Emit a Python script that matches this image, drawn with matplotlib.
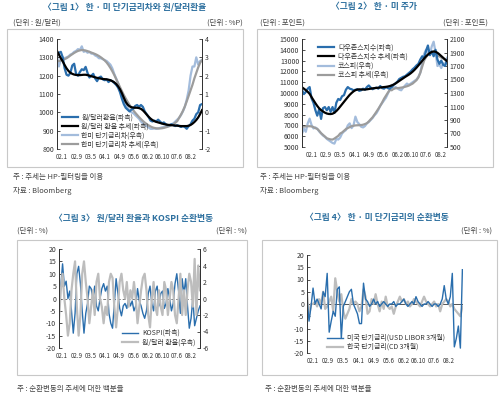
import numpy as np
import matplotlib
matplotlib.use('Agg')
import matplotlib.pyplot as plt
from matplotlib.patches import Rectangle

plt.rcParams['font.family'] = ['Noto Sans CJK KR', 'DejaVu Sans']
plt.rcParams['axes.unicode_minus'] = False

# tick labels shared by all four panels
dates = ['02.1', '02.9', '03.5', '04.1', '04.9', '05.6', '06.2', '06.10', '07.6', '08.2']

# panel 1: won/dollar rate and Korea-US short rate spread
krw = [1317, 1325, 1330, 1300, 1240, 1205, 1200, 1215, 1255, 1265, 1210, 1200,
       1220, 1235, 1230, 1248, 1215, 1190, 1200, 1210, 1185, 1170, 1190, 1195,
       1180, 1175, 1180, 1165, 1175, 1170, 1160, 1150, 1135, 1110, 1075, 1045,
       1025, 1015, 1005, 1015, 1020, 1035, 1040, 1030, 1040, 1030, 1005, 990,
       975, 955, 950, 955, 950, 960, 950, 940, 945, 935, 930, 930,
       935, 930, 925, 930, 925, 920, 925, 920, 910, 925, 935, 955,
       965, 990, 1000, 1040, 1045]
krw_trend = [1335, 1315, 1295, 1278, 1258, 1240, 1226, 1216, 1210, 1206, 1204, 1203,
             1203, 1204, 1205, 1205, 1203, 1200, 1197, 1194, 1191, 1188, 1186, 1184,
             1182, 1181, 1180, 1178, 1175, 1170, 1164, 1155, 1142, 1126, 1105, 1080,
             1057, 1042, 1033, 1028, 1026, 1025, 1025, 1023, 1019, 1011, 1000, 988,
             976, 966, 958, 952, 948, 945, 942, 939, 936, 934, 932, 931,
             930, 929, 928, 927, 926, 925, 925, 925, 925, 927, 931, 938,
             947, 958, 972, 990, 1012]
spread = [3.1, 2.5, 2.9, 3.0, 2.95, 3.0, 3.05, 3.15, 3.2, 3.3, 3.35, 3.45,
          3.4, 3.6, 3.3, 3.35, 3.25, 3.3, 3.2, 3.2, 3.1, 3.05, 2.95, 2.95,
          2.9, 2.85, 2.8, 2.7, 2.6, 2.4, 2.1, 1.85, 1.6, 1.2, 0.85, 0.6,
          0.4, 0.25, 0.1, 0.0, -0.05, -0.15, -0.25, -0.35, -0.5, -0.6, -0.7, -0.75,
          -0.82, -0.9, -0.9, -0.88, -0.9, -0.88, -0.85, -0.82, -0.8, -0.78, -0.72, -0.7,
          -0.65, -0.6, -0.5, -0.4, -0.3, -0.15, 0.05, 0.3, 0.7, 1.2, 2.0, 2.5,
          2.5, 3.0, 2.6, 2.8, 2.85]
spread_trend = [2.78, 2.8, 2.83, 2.86, 2.9, 2.95, 3.02, 3.1, 3.17, 3.24, 3.3, 3.35,
                3.38, 3.4, 3.39, 3.37, 3.34, 3.3, 3.26, 3.22, 3.18, 3.13, 3.07, 3.0,
                2.92, 2.83, 2.72, 2.58, 2.42, 2.24, 2.04, 1.82, 1.6, 1.38, 1.16, 0.95,
                0.76, 0.58, 0.41, 0.25, 0.11, -0.02, -0.14, -0.26, -0.37, -0.47, -0.56, -0.64,
                -0.71, -0.77, -0.82, -0.85, -0.87, -0.88, -0.88, -0.87, -0.85, -0.82, -0.79, -0.75,
                -0.7, -0.64, -0.57, -0.48, -0.3, -0.12, 0.08, 0.32, 0.6, 0.9, 1.2, 1.5,
                1.85, 2.15, 2.45, 2.7, 2.85]

# panel 2: Dow Jones and KOSPI
dow = [10280, 9900, 10100, 10400, 10550, 9500, 9100, 8420, 7900, 8500, 7600, 8600,
       8700, 8400, 8700, 8250, 8700, 8150, 9100, 9450, 9350, 9700, 9800, 10300,
       10550, 10400, 10350, 10250, 10300, 10350, 10200, 10250, 10400, 10300, 10550, 10700,
       10500, 10350, 10450, 10500, 10400, 10650, 10450, 10400, 10550, 10450, 10400, 10550,
       10750, 10900, 11050, 11300, 11400, 11500, 11550, 11700, 11850, 12000, 12200, 12350,
       12550, 12700, 13100, 13400, 13200, 13900, 14400, 13500, 13850, 13400, 14000, 13100,
       12700, 13000, 12600, 12500, 13050]
dow_trend = [10530, 10400, 10260, 10110, 9920, 9620, 9340, 9060, 8800, 8580, 8420, 8290,
             8180, 8100, 8060, 8050, 8080, 8180, 8330, 8520, 8740, 8960, 9180, 9400,
             9620, 9830, 10000, 10150, 10260, 10320, 10340, 10330, 10320, 10320, 10340, 10370,
             10400, 10430, 10450, 10470, 10490, 10510, 10530, 10550, 10570, 10600, 10640, 10700,
             10780, 10880, 11000, 11120, 11240, 11360, 11480, 11590, 11700, 11830, 11980, 12150,
             12340, 12550, 12760, 12980, 13190, 13390, 13560, 13700, 13800, 13850, 13820, 13720,
             13580, 13420, 13260, 13100, 12950]
kospi = [700, 770, 725, 850, 920, 825, 775, 790, 770, 730, 700, 670,
         650, 620, 600, 580, 560, 550, 620, 610, 640, 700, 730, 750,
         820, 850, 780, 820, 950, 870, 840, 800, 790, 810, 850, 870,
         900, 930, 970, 1000, 1050, 1110, 1150, 1190, 1230, 1290, 1350, 1420,
         1360, 1390, 1370, 1350, 1340, 1380, 1410, 1440, 1420, 1440, 1460, 1480,
         1500, 1540, 1600, 1750, 1880, 1940, 1900, 1870, 1990, 2060, 1900, 1700,
         1720, 1670, 1740, 1720, 1820]
kospi_trend = [800, 803, 806, 808, 808, 805, 795, 780, 768, 740, 705, 680,
               655, 630, 620, 612, 610, 625, 645, 665, 700, 715, 740, 765,
               780, 795, 808, 815, 820, 822, 823, 825, 830, 840, 852, 878,
               910, 940, 980, 1022, 1065, 1110, 1160, 1215, 1260, 1305, 1345, 1340,
               1362, 1370, 1372, 1375, 1380, 1384, 1392, 1400, 1410, 1425, 1440, 1465,
               1490, 1530, 1600, 1690, 1780, 1830, 1865, 1885, 1893, 1890, 1878, 1860,
               1842, 1825, 1810, 1795, 1790]

# panel 3: cyclical components (%)
kospi_cycle = [0, 5, 14, 5, 7, 0, 3, -5, -14, -6, 10, 13,
               6, -5, -14, -6, -2, 5, 4, 0, 5, -3, -5, 0,
               4, 6, 3, 5, -6, -10, -12, -2, 8, 2, -4, -7,
               -3, -2, -4, 0, -3, -1, -5, -3, 4, -1, -3, -6,
               -8, -5, 2, 5, -2, -5, 3, 5, -3, 2, 3, -4,
               -2, 4, 0, -5, -2, 6, 10, 3, -6, 8, 2, 8,
               -3, -12, -8, 0, -11, -8, -5, -3]
krw_cycle = [-2.5, 1, 3, 0, -2, -4.5, -3, 1, 3, 4.5, -1, -4.5,
             -2, 3, 4.5, 2, 0, -3, -1, 1, -2, 2, 3, 0,
             -1, -3, -1, -2, 2, 3, 2.5, -1, -3.5, -1, 2, 3,
             1, 0, 2, -1, 1, 0, 2, 0, -3, -1, 1, 2.5,
             3, 1, -2, -3.5, 0, 2, -1, -2, 1, -1, -2, 2,
             1, -2, 0, 2, 1, -2, -3, 0, 3, -2, 1, -2,
             1, 3, 2, -1, 4.8, -2, 4, 1]

# panel 4: cyclical components of short-term rates (%)
libor_cycle = [2, -7, -1, 6.5, 0, 2, 0, -2, 5, 3, 12.5, -11.5,
               -7, -3, -5, 6, 7, -14, -1, 1, 3, 5, 6, 0,
               -2, -4, -8, -8, 8.5, 2, 1, -1, 0, 2, 0, 1,
               -1, 0, 1, 0, -1, 0, 0, 1, -1, 0, 0, 1,
               2, 0, -1, 0, 1, 0, 3, 1, 0, -1, 0, 0,
               1, 0, -1, 0, 0, -1, 0, 2, 7.5, 2, 0, 3,
               12.5, -17.5, -14, -9, -18, 14]
cd_cycle = [4, -5, 0, 0, 1, -1, 2, 0, 5, -2, -1, 1,
            3, -3, 10.5, 5, 1, 4, -3, -6, -4, -2, 2, 0,
            1, 0, -3, -1, 6, 3, -4, -3, 2, 0, 4, 0,
            -3, 1, -2, 3, -1, -2, -1, -4, -1, 1, 3, 1,
            2, 0, 1, -1, 0, 2, 1, 0, -1, 1, 3, 1,
            0, -1, 0, 1, -1, 0, -3, 0, 1, 2, 1, -1,
            0, -2, -3, -4, -5, -1]

BLUE = '#2a6ead'
LBLUE = '#a3bcdc'
GREY = '#9c9c9c'
TITLE = '#2c6f9e'
TXT = '#444444'

W, H = 500, 394
fig = plt.figure(figsize=(5, 3.94), dpi=100)


def rect(l, t, r, b):
    return [l / W, 1 - b / H, (r - l) / W, (b - t) / H]


def frame(l, t, r, b):
    fig.patches.append(Rectangle((l / W, 1 - b / H), (r - l) / W, (b - t) / H,
                                 transform=fig.transFigure, fill=False,
                                 ec='#c8c8c8', lw=0.8))


def txt(x, y, s, **kw):
    kw.setdefault('fontsize', 5.4)
    kw.setdefault('color', TXT)
    fig.text(x / W, 1 - y / H, s, va='center', **kw)


def style(ax, n, f0, step):
    for s in ['top', 'bottom']:
        ax.spines[s].set_visible(False)
    for s in ['left', 'right']:
        ax.spines[s].set_linewidth(0.7)
        ax.spines[s].set_color('#333333')
    ax.tick_params(axis='y', direction='in', length=2.5, width=0.6,
                   labelsize=5, pad=2, colors='#333333')
    ax.tick_params(axis='x', length=0, labelsize=4.4, pad=3, colors='#333333')
    ax.set_xlim(0, n - 1)
    ax.set_xticks([(f0 + k * step) * (n - 1) for k in range(len(dates))])
    ax.set_xticklabels(dates)


def leg(ax, handles, **kw):
    lg = ax.legend(handles=handles, frameon=False, fontsize=5,
                   handlelength=2.3, handletextpad=0.5, labelspacing=0.15,
                   borderpad=0.2, **kw)
    for t in lg.get_texts():
        t.set_color('#333333')


# ---- panel 1
frame(7, 29, 243, 167)
ax1 = fig.add_axes(rect(57, 39, 202, 149))
ax1b = ax1.twinx()
x1 = np.arange(len(krw))
la = ax1b.plot(x1, spread, color=LBLUE, lw=1.6, label='한미 단기금리차(우측)')[0]
lb = ax1b.plot(x1, spread_trend, color=GREY, lw=1.6, label='한미 단기금리차 추세(우측)')[0]
lc = ax1.plot(x1, krw, color=BLUE, lw=1.6, label='원/달러환율(좌측)')[0]
ld = ax1.plot(x1, krw_trend, color='black', lw=1.6, label='원/달러 환율 추세(좌측)')[0]
ax1.set_zorder(ax1b.get_zorder() + 1)
ax1.patch.set_visible(False)
ax1.set_ylim(800, 1400)
ax1.set_yticks(range(800, 1401, 100))
ax1b.set_ylim(-2, 4)
ax1b.set_yticks(range(-2, 5))
style(ax1, len(krw), 0.035, 0.0988)
style(ax1b, len(krw), 0.035, 0.0988)
leg(ax1, [lc, ld, la, lb], loc='upper left', bbox_to_anchor=(0.0, 0.37))
txt(125, 7, '〈그림 1〉 한 · 미 단기금리차와 원/달러환율', ha='center', fontsize=6.3,
    color=TITLE, fontweight='bold')
txt(13, 23, '(단위 : 원/달러)')
txt(243, 23, '(단위 : %P)', ha='right')
txt(13, 177, '주 : 추세는 HP-필터링을 이용')
txt(13, 191, '자료 : Bloomberg')

# ---- panel 2
frame(257, 29, 493, 167)
ax2 = fig.add_axes(rect(302, 39, 447, 147))
ax2b = ax2.twinx()
x2 = np.arange(len(dow))
ma = ax2b.plot(x2, kospi, color=LBLUE, lw=1.6, label='코스피(우측)')[0]
mb = ax2b.plot(x2, kospi_trend, color=GREY, lw=1.6, label='코스피 추세(우측)')[0]
mc = ax2.plot(x2, dow, color=BLUE, lw=1.6, label='다우존스지수(좌측)')[0]
md = ax2.plot(x2, dow_trend, color='black', lw=1.6, label='다우존스지수 추세(좌측)')[0]
ax2.set_zorder(ax2b.get_zorder() + 1)
ax2.patch.set_visible(False)
ax2.set_ylim(5000, 15000)
ax2.set_yticks(range(5000, 15001, 1000))
ax2b.set_ylim(500, 2100)
ax2b.set_yticks(range(500, 2101, 200))
style(ax2, len(dow), 0.064, 0.0989)
style(ax2b, len(dow), 0.064, 0.0989)
leg(ax2, [mc, md, ma, mb], loc='upper left', bbox_to_anchor=(0.08, 1.0))
txt(374, 7, '〈그림 2〉 한 · 미 주가', ha='center', fontsize=6.3,
    color=TITLE, fontweight='bold')
txt(260, 23, '(단위 : 포인트)')
txt(488, 23, '(단위 : 포인트)', ha='right')
txt(260, 177, '주 : 추세는 HP-필터링을 이용')
txt(260, 191, '자료 : Bloomberg')

# ---- panel 3
frame(17, 240, 247, 375)
ax3 = fig.add_axes(rect(59, 249, 200, 348))
ax3b = ax3.twinx()
x3 = np.arange(len(kospi_cycle))
ax3.axhline(0, color='#7a7a7a', lw=0.7, ls=(0, (3, 2)), zorder=0)
na = ax3.plot(x3, kospi_cycle, color=BLUE, lw=1.0, label='KOSPI(좌측)')[0]
nb = ax3b.plot(x3, krw_cycle, color='#bdbdbd', lw=1.6, label='원/달러 환율(우측)')[0]
ax3.set_ylim(-20, 20)
ax3.set_yticks(range(-20, 21, 5))
ax3b.set_ylim(-6, 6)
ax3b.set_yticks(range(-6, 7, 2))
style(ax3, len(kospi_cycle), 0.021, 0.1014)
style(ax3b, len(kospi_cycle), 0.021, 0.1014)
leg(ax3b, [na, nb], loc='lower right', bbox_to_anchor=(1.0, -0.03))
txt(134, 218, '〈그림 3〉 원/달러 환율과 KOSPI 순환변동', ha='center', fontsize=6.3,
    color=TITLE, fontweight='bold')
txt(17, 231, '(단위 : %)')
txt(247, 231, '(단위 : %)', ha='right')
txt(17, 389, '주 : 순환변동의 추세에 대한 백분율')

# ---- panel 4
frame(262, 240, 497, 375)
ax4 = fig.add_axes(rect(307, 255, 463, 353))
x4 = np.arange(len(libor_cycle))
ax4.axhline(0, color='#555555', lw=0.7, zorder=0)
pb = ax4.plot(x4, cd_cycle, color='#bdbdbd', lw=1.6, label='한국 단기금리(CD 3개월)')[0]
pa = ax4.plot(x4, libor_cycle, color=BLUE, lw=1.0, label='미국 단기금리(USD LIBOR 3개월)')[0]
ax4.set_ylim(-20, 20)
ax4.set_yticks(range(-20, 21, 5))
style(ax4, len(libor_cycle), 0.038, 0.0974)
ax4.set_xlim(0, len(libor_cycle) - 0.7)
ax4.spines['right'].set_visible(False)
leg(ax4, [pa, pb], loc='lower left', bbox_to_anchor=(0.1, -0.03))
txt(377, 217, '〈그림 4〉 한 · 미 단기금리의 순환변동', ha='center', fontsize=6.3,
    color=TITLE, fontweight='bold')
txt(492, 231, '(단위 : %)', ha='right')
txt(265, 389, '주 : 순환변동의 추세에 대한 백분율')

fig.savefig('out.png', dpi=100)
